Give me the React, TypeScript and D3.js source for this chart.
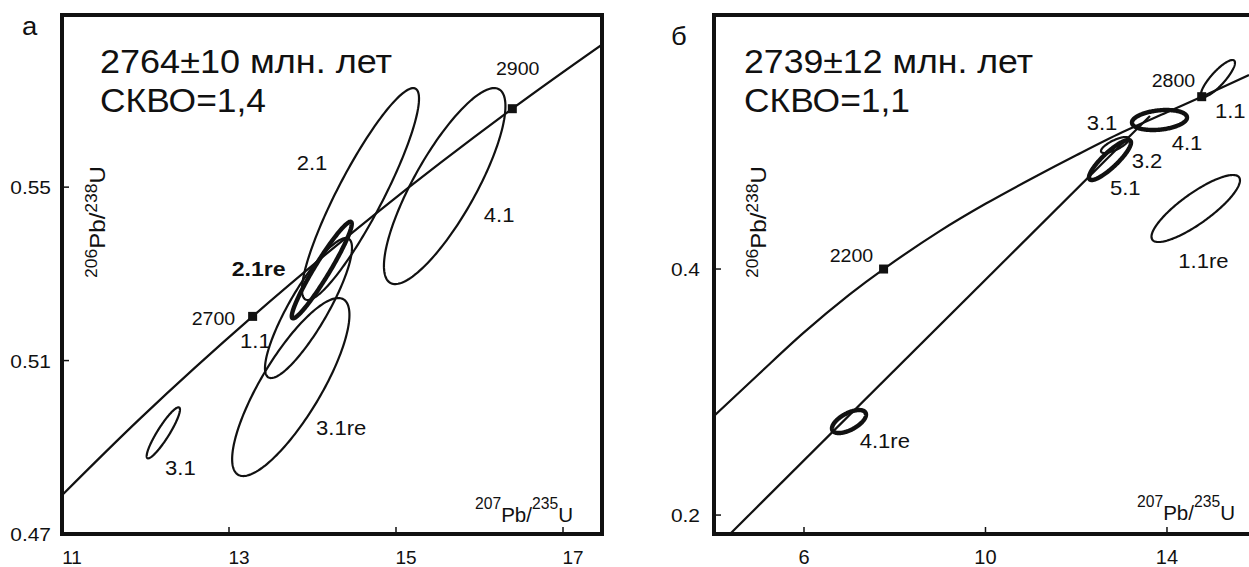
import React from 'react';
import * as d3 from 'd3';

// ---- panel а ----
const aXTicks = [11, 13, 15, 17];
const aXTickLabels = ['11', '13', '15', '17'];
const aYTicks = [0.47, 0.51, 0.55];
const aYTickLabels = ['0.47', '0.51', '0.55'];

// concordia nodes (207Pb/235U, 206Pb/238U), 2500..3000 Ma
const aConcordia: [number, number][] = [
  [10.730, 0.47374],
  [11.944, 0.49679],
  [13.283, 0.52019],
  [14.762, 0.54396],
  [16.393, 0.56809],
  [18.193, 0.59261],
];
const aAgeMarks = [
  { x: 13.283, y: 0.52019 },
  { x: 16.393, y: 0.56809 },
];

// error ellipses: center, half-extent, correlation
const aEllipses = [
  { name: '2.1', x: 14.575, y: 0.5484, sx: 0.7006, sy: 0.02444, rho: 0.9, bold: false },
  { name: '4.1', x: 15.583, y: 0.55024, sx: 0.7275, sy: 0.0226, rho: 0.815, bold: false },
  { name: '1.1', x: 13.952, y: 0.52211, sx: 0.521, sy: 0.01614, rho: 0.86, bold: false },
  { name: '3.1re', x: 13.74, y: 0.5039, sx: 0.7024, sy: 0.02053, rho: 0.81, bold: false },
  { name: '3.1', x: 12.2135, y: 0.49333, sx: 0.1994, sy: 0.00588, rho: 0.91, bold: false },
  { name: '2.1re', x: 14.111, y: 0.53087, sx: 0.3593, sy: 0.01114, rho: 0.955, bold: true },
];

const aLabels = [
  { text: '2.1', x: 13.811, y: 0.55393, bold: false, age: false },
  { text: '2.1re', x: 13.032, y: 0.52949, bold: true, age: false },
  { text: '1.1', x: 13.132, y: 0.51282, bold: false, age: false },
  { text: '4.1', x: 16.051, y: 0.54189, bold: false, age: false },
  { text: '3.1re', x: 14.042, y: 0.49276, bold: false, age: false },
  { text: '3.1', x: 12.234, y: 0.4836, bold: false, age: false },
  { text: '2700', x: 12.553, y: 0.51819, bold: false, age: true },
  { text: '2900', x: 16.197, y: 0.57583, bold: false, age: true },
];

// ---- panel б ----
const bXTicks = [6, 10, 14];
const bXTickLabels = ['6', '10', '14'];
const bYTicks = [0.2, 0.4];
const bYTickLabels = ['0.2', '0.4'];

const bConcordia: [number, number][] = [
  [4.0165, 0.2805],
  [5.0, 0.3145],
  [6.0, 0.3485],
  [7.0, 0.3792],
  [7.754, 0.4],
  [9.0, 0.431],
  [10.0, 0.453],
  [11.0, 0.4732],
  [12.0, 0.4925],
  [13.0, 0.511],
  [14.0, 0.5275],
  [14.765, 0.5401],
  [15.807, 0.5577],
];
const bDiscordia: [number, number][] = [
  [4.369, 0.1846],
  [13.625, 0.5244],
];
const bAgeMarks = [
  { x: 7.754, y: 0.4 },
  { x: 14.765, y: 0.5401 },
];

const bEllipses = [
  { name: '3.1', x: 12.854, y: 0.50081, sx: 0.3086, sy: 0.0065, rho: 0.75, bold: false },
  { name: '1.1', x: 15.1235, y: 0.55488, sx: 0.3747, sy: 0.01504, rho: 0.85, bold: false },
  { name: '1.1re', x: 14.6335, y: 0.44919, sx: 0.9752, sy: 0.02724, rho: 0.84, bold: false },
  { name: '4.1re', x: 6.9915, y: 0.27602, sx: 0.3747, sy: 0.00935, rho: 0.6, bold: true },
  { name: '5.1', x: 12.744, y: 0.48862, sx: 0.463, sy: 0.01626, rho: 0.87, bold: true },
  { name: '4.1', x: 13.835, y: 0.52114, sx: 0.606, sy: 0.00813, rho: 0.25, bold: true },
];

const bLabels = [
  { text: '3.1', x: 12.23, y: 0.51301, bold: false, age: false },
  { text: '4.1', x: 14.104, y: 0.49675, bold: false, age: false },
  { text: '3.2', x: 13.222, y: 0.48187, bold: false, age: false },
  { text: '5.1', x: 12.744, y: 0.46016, bold: false, age: false },
  { text: '1.1', x: 15.058, y: 0.52252, bold: false, age: false },
  { text: '1.1re', x: 14.249, y: 0.40057, bold: false, age: false },
  { text: '4.1re', x: 7.228, y: 0.25447, bold: false, age: false },
  { text: '2200', x: 6.566, y: 0.40585, bold: false, age: true },
  { text: '2800', x: 13.663, y: 0.54821, bold: false, age: true },
];

const FONT = '"Liberation Sans", Arial, Helvetica, sans-serif';
const INK = '#111';

type Ell = { name: string; x: number; y: number; sx: number; sy: number; rho: number; bold: boolean };

function ellipsePoints(e: Ell, n = 180): [number, number][] {
  const k = Math.sqrt(1 - e.rho * e.rho);
  return d3.range(n).map((i) => {
    const t = (i / n) * 2 * Math.PI;
    return [e.x + e.sx * Math.cos(t), e.y + e.sy * (e.rho * Math.cos(t) + k * Math.sin(t))] as [number, number];
  });
}

function Panel(props: any) {
  const { id, left, right, top, bottom, xDomain, yDomain, xTicks, xTickLabels, yTicks, yTickLabels,
    xLabelDx, yLabelX, curve, curveSmooth, discordia, marks, ellipses, labels,
    letter, letterX, letterY, title1, title2, titleX, len1, len2, yTitleX, xTitleX, xTitleY, tickFont } = props;

  const x = d3.scaleLinear().domain(xDomain).range([left, right]);
  const y = d3.scaleLinear().domain(yDomain).range([bottom, top]);
  const line = d3.line<[number, number]>().x((d) => x(d[0])).y((d) => y(d[1]));
  const smooth = d3.line<[number, number]>().x((d) => x(d[0])).y((d) => y(d[1]))
    .curve(curveSmooth ? d3.curveCatmullRom.alpha(0.5) : d3.curveMonotoneX);
  const closed = d3.line<[number, number]>().x((d) => x(d[0])).y((d) => y(d[1])).curve(d3.curveLinearClosed);

  return (
    <g>
      <defs>
        <clipPath id={'clip-' + id}>
          <rect x={left} y={top} width={right - left} height={bottom - top} />
        </clipPath>
      </defs>

      <g clipPath={`url(#clip-${id})`} fill="none" stroke={INK}>
        <path d={smooth(curve) || ''} strokeWidth={2.2} />
        {discordia && <path d={line(discordia) || ''} strokeWidth={2.2} />}
        {ellipses.map((e: Ell) => (
          <path key={e.name} d={closed(ellipsePoints(e)) || ''} strokeWidth={e.bold ? 4.4 : 2.2} />
        ))}
        {marks.map((m: any, i: number) => (
          <rect key={i} x={x(m.x) - 4.5} y={y(m.y) - 4.5} width={9} height={9} fill={INK} stroke="none" />
        ))}
      </g>

      {/* ticks */}
      <g stroke={INK} strokeWidth={1.5}>
        {xTicks.map((t: number) => (
          <line key={t} x1={x(t)} x2={x(t)} y1={bottom} y2={bottom - 7} />
        ))}
        {yTicks.map((t: number) => (
          <line key={t} x1={left} x2={left + 7} y1={y(t)} y2={y(t)} />
        ))}
      </g>

      {/* frame */}
      <rect x={left} y={top} width={right - left} height={bottom - top} fill="none" stroke={INK} strokeWidth={4} />

      <g fontFamily={FONT} fill={INK}>
        {xTicks.map((t: number, i: number) => (
          <text key={t} x={x(t) + xLabelDx} y={563.5} fontSize={tickFont} textAnchor="middle">
            {xTickLabels[i]}
          </text>
        ))}
        {yTicks.map((t: number, i: number) => (
          <text key={t} transform={`translate(${yLabelX},${y(t) + 7}) scale(1.1,1)`} fontSize={19} textAnchor="end">
            {yTickLabels[i]}
          </text>
        ))}

        {labels.map((l: any) => (
          <text key={l.text + l.x}
            transform={`translate(${x(l.x)},${y(l.y)}) scale(${l.age ? 1.03 : l.bold ? 1.1 : 1.05},1)`}
            fontSize={l.age ? 19 : 21} fontWeight={l.bold ? 'bold' : 'normal'}>
            {l.text}
          </text>
        ))}

        <text transform={`translate(${letterX},${letterY}) scale(1.1,1)`} fontSize={25}>{letter}</text>

        <text x={titleX} y={73} fontSize={33} textLength={len1} lengthAdjust="spacingAndGlyphs">{title1}</text>
        <text x={titleX} y={112} fontSize={33} textLength={len2} lengthAdjust="spacingAndGlyphs">{title2}</text>

        <text transform={`translate(${yTitleX},278) rotate(-90)`} fontSize={22} textLength={112} lengthAdjust="spacingAndGlyphs">
          <tspan fontSize={16}>206</tspan>
          <tspan dy={8}>Pb/</tspan>
          <tspan fontSize={16} dy={-8}>238</tspan>
          <tspan dy={8}>U</tspan>
        </text>

        <text x={xTitleX} y={xTitleY} fontSize={21} textLength={98} lengthAdjust="spacingAndGlyphs">
          <tspan fontSize={16} dy={-13}>207</tspan>
          <tspan dy={13}>Pb/</tspan>
          <tspan fontSize={16} dy={-13}>235</tspan>
          <tspan dy={13}>U</tspan>
        </text>
      </g>
    </g>
  );
}

export default function App() {
  return (
    <svg width={1249} height={567} style={{ position: 'absolute', left: 0, top: 0, background: '#fff' }}>
      <rect width={1249} height={567} fill="#fff" />
      <Panel
        id="a" left={62} right={602} top={15} bottom={534}
        xDomain={[11, 17.467]} yDomain={[0.47, 0.5897]}
        xTicks={aXTicks} xTickLabels={aXTickLabels} yTicks={aYTicks} yTickLabels={aYTickLabels}
        xLabelDx={10} yLabelX={51} tickFont={19}
        curve={aConcordia} curveSmooth={false} discordia={null} marks={aAgeMarks}
        ellipses={aEllipses} labels={aLabels}
        letter="а" letterX={22} letterY={35}
        title1="2764±10 млн. лет" title2="СКВО=1,4" titleX={100} len1={292} len2={166}
        yTitleX={97} xTitleX={475} xTitleY={521.7}
      />
      <Panel
        id="b" left={714} right={1262} top={15} bottom={534}
        xDomain={[4.0165, 16.094]} yDomain={[0.1846, 0.6065]}
        xTicks={bXTicks} xTickLabels={bXTickLabels} yTicks={bYTicks} yTickLabels={bYTickLabels}
        xLabelDx={0} yLabelX={700} tickFont={20}
        curve={bConcordia} curveSmooth={true} discordia={bDiscordia} marks={bAgeMarks}
        ellipses={bEllipses} labels={bLabels}
        letter="б" letterX={671} letterY={45}
        title1="2739±12 млн. лет" title2="СКВО=1,1" titleX={744} len1={289} len2={166}
        yTitleX={758} xTitleX={1137} xTitleY={520}
      />
    </svg>
  );
}
